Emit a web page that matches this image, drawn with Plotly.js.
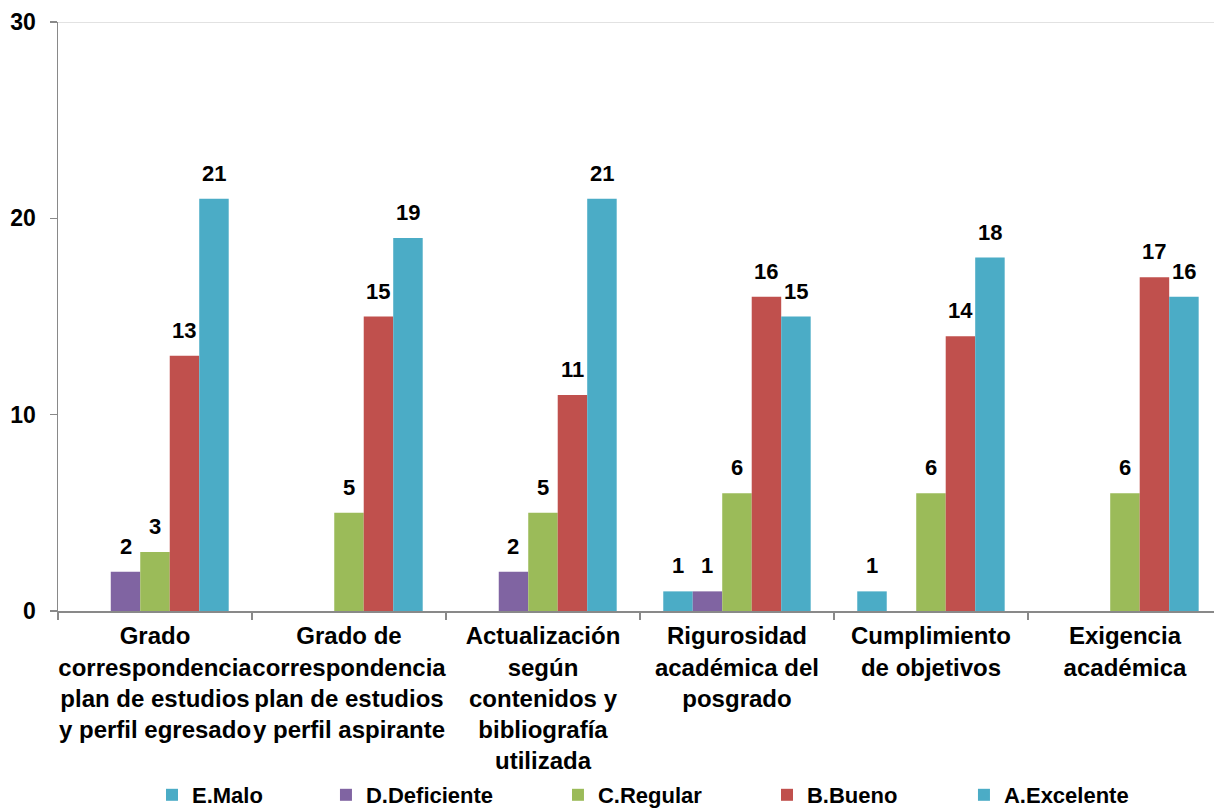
<!DOCTYPE html>
<html>
<head>
<meta charset="utf-8">
<script src="https://cdn.plot.ly/plotly-3.0.1.min.js"></script>
<style>html,body{margin:0;padding:0;background:#fff;}#chart{width:1214px;height:809px;}</style>
</head>
<body>
<div id="chart"></div>
<script>
// ---- data ----
const categories = [
  "Grado<br>correspondencia<br>plan de estudios<br>y perfil egresado",
  "Grado de<br>correspondencia<br>plan de estudios<br>y perfil aspirante",
  "Actualización<br>según<br>contenidos y<br>bibliografía<br>utilizada",
  "Rigurosidad<br>académica del<br>posgrado",
  "Cumplimiento<br>de objetivos",
  "Exigencia<br>académica"
];
const seriesNames = ["E.Malo", "D.Deficiente", "C.Regular", "B.Bueno", "A.Excelente"];
const eMalo       = [0, 0, 0, 1, 1, 0];
const dDeficiente = [2, 0, 2, 1, 0, 0];
const cRegular    = [3, 5, 5, 6, 6, 6];
const bBueno      = [13, 15, 11, 16, 14, 17];
const aExcelente  = [21, 19, 21, 15, 18, 16];
const yTicks = [0, 10, 20, 30];

// ---- style ----
const seriesValues = [eMalo, dDeficiente, cRegular, bBueno, aExcelente];
const colors = ["#4BACC6", "#8064A2", "#9BBB59", "#C0504D", "#4BACC6"];
const FONT = "Liberation Sans, Arial, sans-serif";
const BARGAP = 0.24;
const barW = (1 - BARGAP) / seriesNames.length;
const legendX = [0.0813, 0.2318, 0.4325, 0.6133, 0.7837];

const traces = seriesNames.map((name, i) => ({
  type: "bar",
  name: name,
  x: categories,
  y: seriesValues[i],
  marker: {color: colors[i]},
  legend: i === 0 ? "legend" : "legend" + (i + 1),
  hoverinfo: "skip"
}));

const annotations = [];
seriesValues.forEach((vals, i) => {
  vals.forEach((v, c) => {
    if (v > 0) {
      annotations.push({
        x: c + (i - (seriesNames.length - 1) / 2) * barW,
        y: v,
        xref: "x", yref: "y",
        text: String(v),
        showarrow: false,
        yanchor: "bottom",
        yshift: 11,
        font: {family: FONT, size: 22, color: "#000", weight: "bold"}
      });
    }
  });
});

const legendBase = {
  orientation: "h",
  xanchor: "left",
  yanchor: "middle",
  y: -0.3124,
  bgcolor: "rgba(0,0,0,0)",
  font: {family: FONT, size: 22, color: "#000", weight: "bold"},
  itemwidth: 30,
  tracegroupgap: 0
};

const layout = {
  width: 1214,
  height: 809,
  margin: {l: 58, r: 0, t: 22, b: 198, autoexpand: false},
  paper_bgcolor: "#fff",
  plot_bgcolor: "#fff",
  barmode: "group",
  bargap: BARGAP,
  bargroupgap: 0,
  showlegend: true,
  xaxis: {
    type: "category",
    range: [-0.5, 5.459],
    showline: true,
    linecolor: "#898989",
    linewidth: 1.5,
    ticks: "outside",
    tickson: "boundaries",
    ticklen: 7,
    tickcolor: "#898989",
    tickwidth: 1.5,
    showgrid: false,
    zeroline: false,
    tickangle: 0,
    ticklabelstandoff: 3,
    tickfont: {family: FONT, size: 24, color: "#000", weight: "bold"}
  },
  yaxis: {
    range: [0, 30],
    tickvals: yTicks,
    ticktext: yTicks.map(String),
    showline: true,
    linecolor: "#898989",
    linewidth: 1.5,
    ticks: "outside",
    ticklen: 7,
    tickcolor: "#898989",
    tickwidth: 1.5,
    showgrid: false,
    zeroline: false,
    ticklabelstandoff: 9,
    tickfont: {family: FONT, size: 23, color: "#000", weight: "bold"}
  },
  shapes: [{
    type: "line", xref: "paper", yref: "y",
    x0: 0, x1: 1, y0: 30, y1: 30,
    line: {color: "#d9d9d9", width: 1.5}
  }],
  annotations: annotations
};
seriesNames.forEach((n, i) => {
  const key = i === 0 ? "legend" : "legend" + (i + 1);
  layout[key] = Object.assign({}, legendBase, {x: legendX[i]});
});

Plotly.newPlot("chart", traces, layout, {displayModeBar: false, staticPlot: true});
</script>
</body>
</html>
